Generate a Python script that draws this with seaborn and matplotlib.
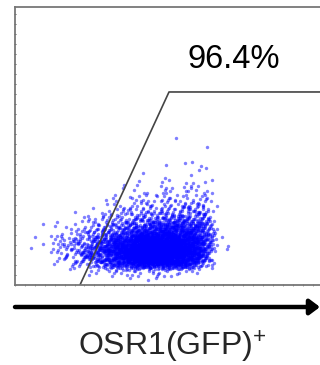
import numpy as np
import pandas as pd
import matplotlib
matplotlib.use('Agg')
import matplotlib.pyplot as plt
from matplotlib.ticker import MultipleLocator, NullLocator
import seaborn as sns

# Event density: cell centres (fluorescence units, 0-1024)
# and number of events per cell, rows listed from top to bottom
x_centres = [70, 110, 150, 190, 230, 270, 310, 350, 390, 430, 470, 510, 550, 590, 630, 670]
y_centres = [571, 534, 497, 460, 424, 387, 350, 313, 276, 239, 203, 166, 129, 92, 55]
event_counts = [
    [0, 0, 0, 0, 0, 0, 0, 0, 0, 0, 0, 0, 1, 0, 0, 0],
    [0, 0, 0, 0, 0, 0, 0, 0, 0, 0, 0, 0, 0, 0, 0, 0],
    [0, 0, 0, 0, 0, 0, 0, 0, 0, 0, 0, 0, 0, 0, 1, 0],
    [0, 0, 0, 0, 0, 0, 0, 0, 0, 0, 0, 1, 1, 1, 0, 0],
    [0, 0, 0, 0, 0, 0, 0, 0, 0, 0, 0, 0, 0, 1, 2, 0],
    [0, 0, 0, 0, 0, 0, 0, 0, 1, 1, 1, 2, 1, 2, 2, 0],
    [0, 0, 0, 0, 0, 0, 0, 1, 2, 3, 3, 3, 3, 4, 4, 0],
    [0, 0, 0, 0, 0, 0, 1, 3, 4, 5, 6, 6, 8, 8, 8, 0],
    [0, 0, 0, 0, 0, 2, 4, 6, 8, 10, 11, 13, 15, 16, 12, 1],
    [0, 1, 0, 1, 3, 6, 10, 14, 18, 22, 26, 30, 32, 32, 22, 2],
    [1, 1, 2, 5, 9, 14, 22, 30, 40, 50, 60, 65, 65, 58, 35, 3],
    [1, 3, 5, 10, 18, 28, 44, 66, 95, 120, 130, 130, 118, 95, 45, 3],
    [0, 2, 7, 14, 24, 38, 62, 100, 135, 165, 175, 175, 155, 115, 50, 2],
    [0, 1, 4, 10, 20, 32, 50, 82, 120, 145, 150, 145, 120, 80, 30, 1],
    [0, 0, 0, 1, 2, 3, 5, 7, 9, 10, 10, 9, 7, 4, 1, 0],
]

# gate vertices and its percentage
gate_x = [216, 512, 1100]
gate_y = [0, 711, 711]
gate_label = '96.4%'
axis_label = 'OSR1(GFP)$^{+}$'

cell_w, cell_h = 40, 37

# place events with one running 4-d low-discrepancy sequence; two coordinates per axis
# give a tent-shaped spread over neighbouring cells so the cells blend together
alphas = [0.8566748839, 0.7338918566, 0.6287067210, 0.5385972572]
xs, ys = [], []
g = 0
for r, cy in enumerate(y_centres):
    for c, cx in enumerate(x_centres):
        for i in range(event_counts[r][c]):
            g += 1
            u1, u2, u3, u4 = [(0.5 + g * a) % 1 for a in alphas]
            xs.append(cx + (u1 + u2 - 1) * cell_w)
            ys.append(cy + (u3 + u4 - 1) * cell_h)
events = pd.DataFrame({'GFP': xs, 'SSC': ys})

sns.set_style('white')
plt.rcParams['font.family'] = ['Liberation Sans', 'DejaVu Sans']
plt.rcParams['mathtext.fontset'] = 'custom'
plt.rcParams['mathtext.rm'] = 'Liberation Sans'
plt.rcParams['mathtext.default'] = 'rm'

fig = plt.figure(figsize=(3.2, 3.65), dpi=100)
ax = fig.add_axes([15 / 320, 1 - 285 / 365, 308 / 320, 278 / 365])

sns.scatterplot(data=events, x='GFP', y='SSC', ax=ax, s=6, color='#0000ff',
                alpha=0.5, linewidth=0, legend=False)

ax.plot(gate_x, gate_y, color='#444444', lw=1.2)
ax.text(728, 799, gate_label, ha='center', va='baseline', fontsize=23.5, color='black')

ax.set_xlim(0, 1024)
ax.set_ylim(0, 1024)
ax.set_xlabel('')
ax.set_ylabel('')
ax.xaxis.set_major_locator(NullLocator())
ax.yaxis.set_major_locator(NullLocator())
ax.xaxis.set_minor_locator(MultipleLocator(33))
ax.yaxis.set_minor_locator(MultipleLocator(37))
ax.tick_params(axis='y', which='minor', direction='inout', length=2, width=0.7,
               color='#555555', left=True)
ax.tick_params(axis='x', which='minor', direction='inout', length=1.5, width=0.6,
               color='#888888', bottom=True)
for side in ['left', 'top', 'bottom']:
    ax.spines[side].set_color('#777777')
    ax.spines[side].set_linewidth(1.3)
ax.spines['right'].set_visible(False)

# axis arrow under the plot
fig.add_artist(matplotlib.patches.FancyArrowPatch(
    (15 / 320, 1 - 307 / 365), (320 / 320, 1 - 307 / 365), transform=fig.transFigure,
    arrowstyle='-|>,head_length=0.6,head_width=0.45', mutation_scale=10,
    color='black', lw=3.2, shrinkA=0, shrinkB=0))
fig.text(172 / 320, 1 - 356 / 365, axis_label, ha='center', va='baseline', fontsize=23)

fig.savefig('out.png', dpi=100)
